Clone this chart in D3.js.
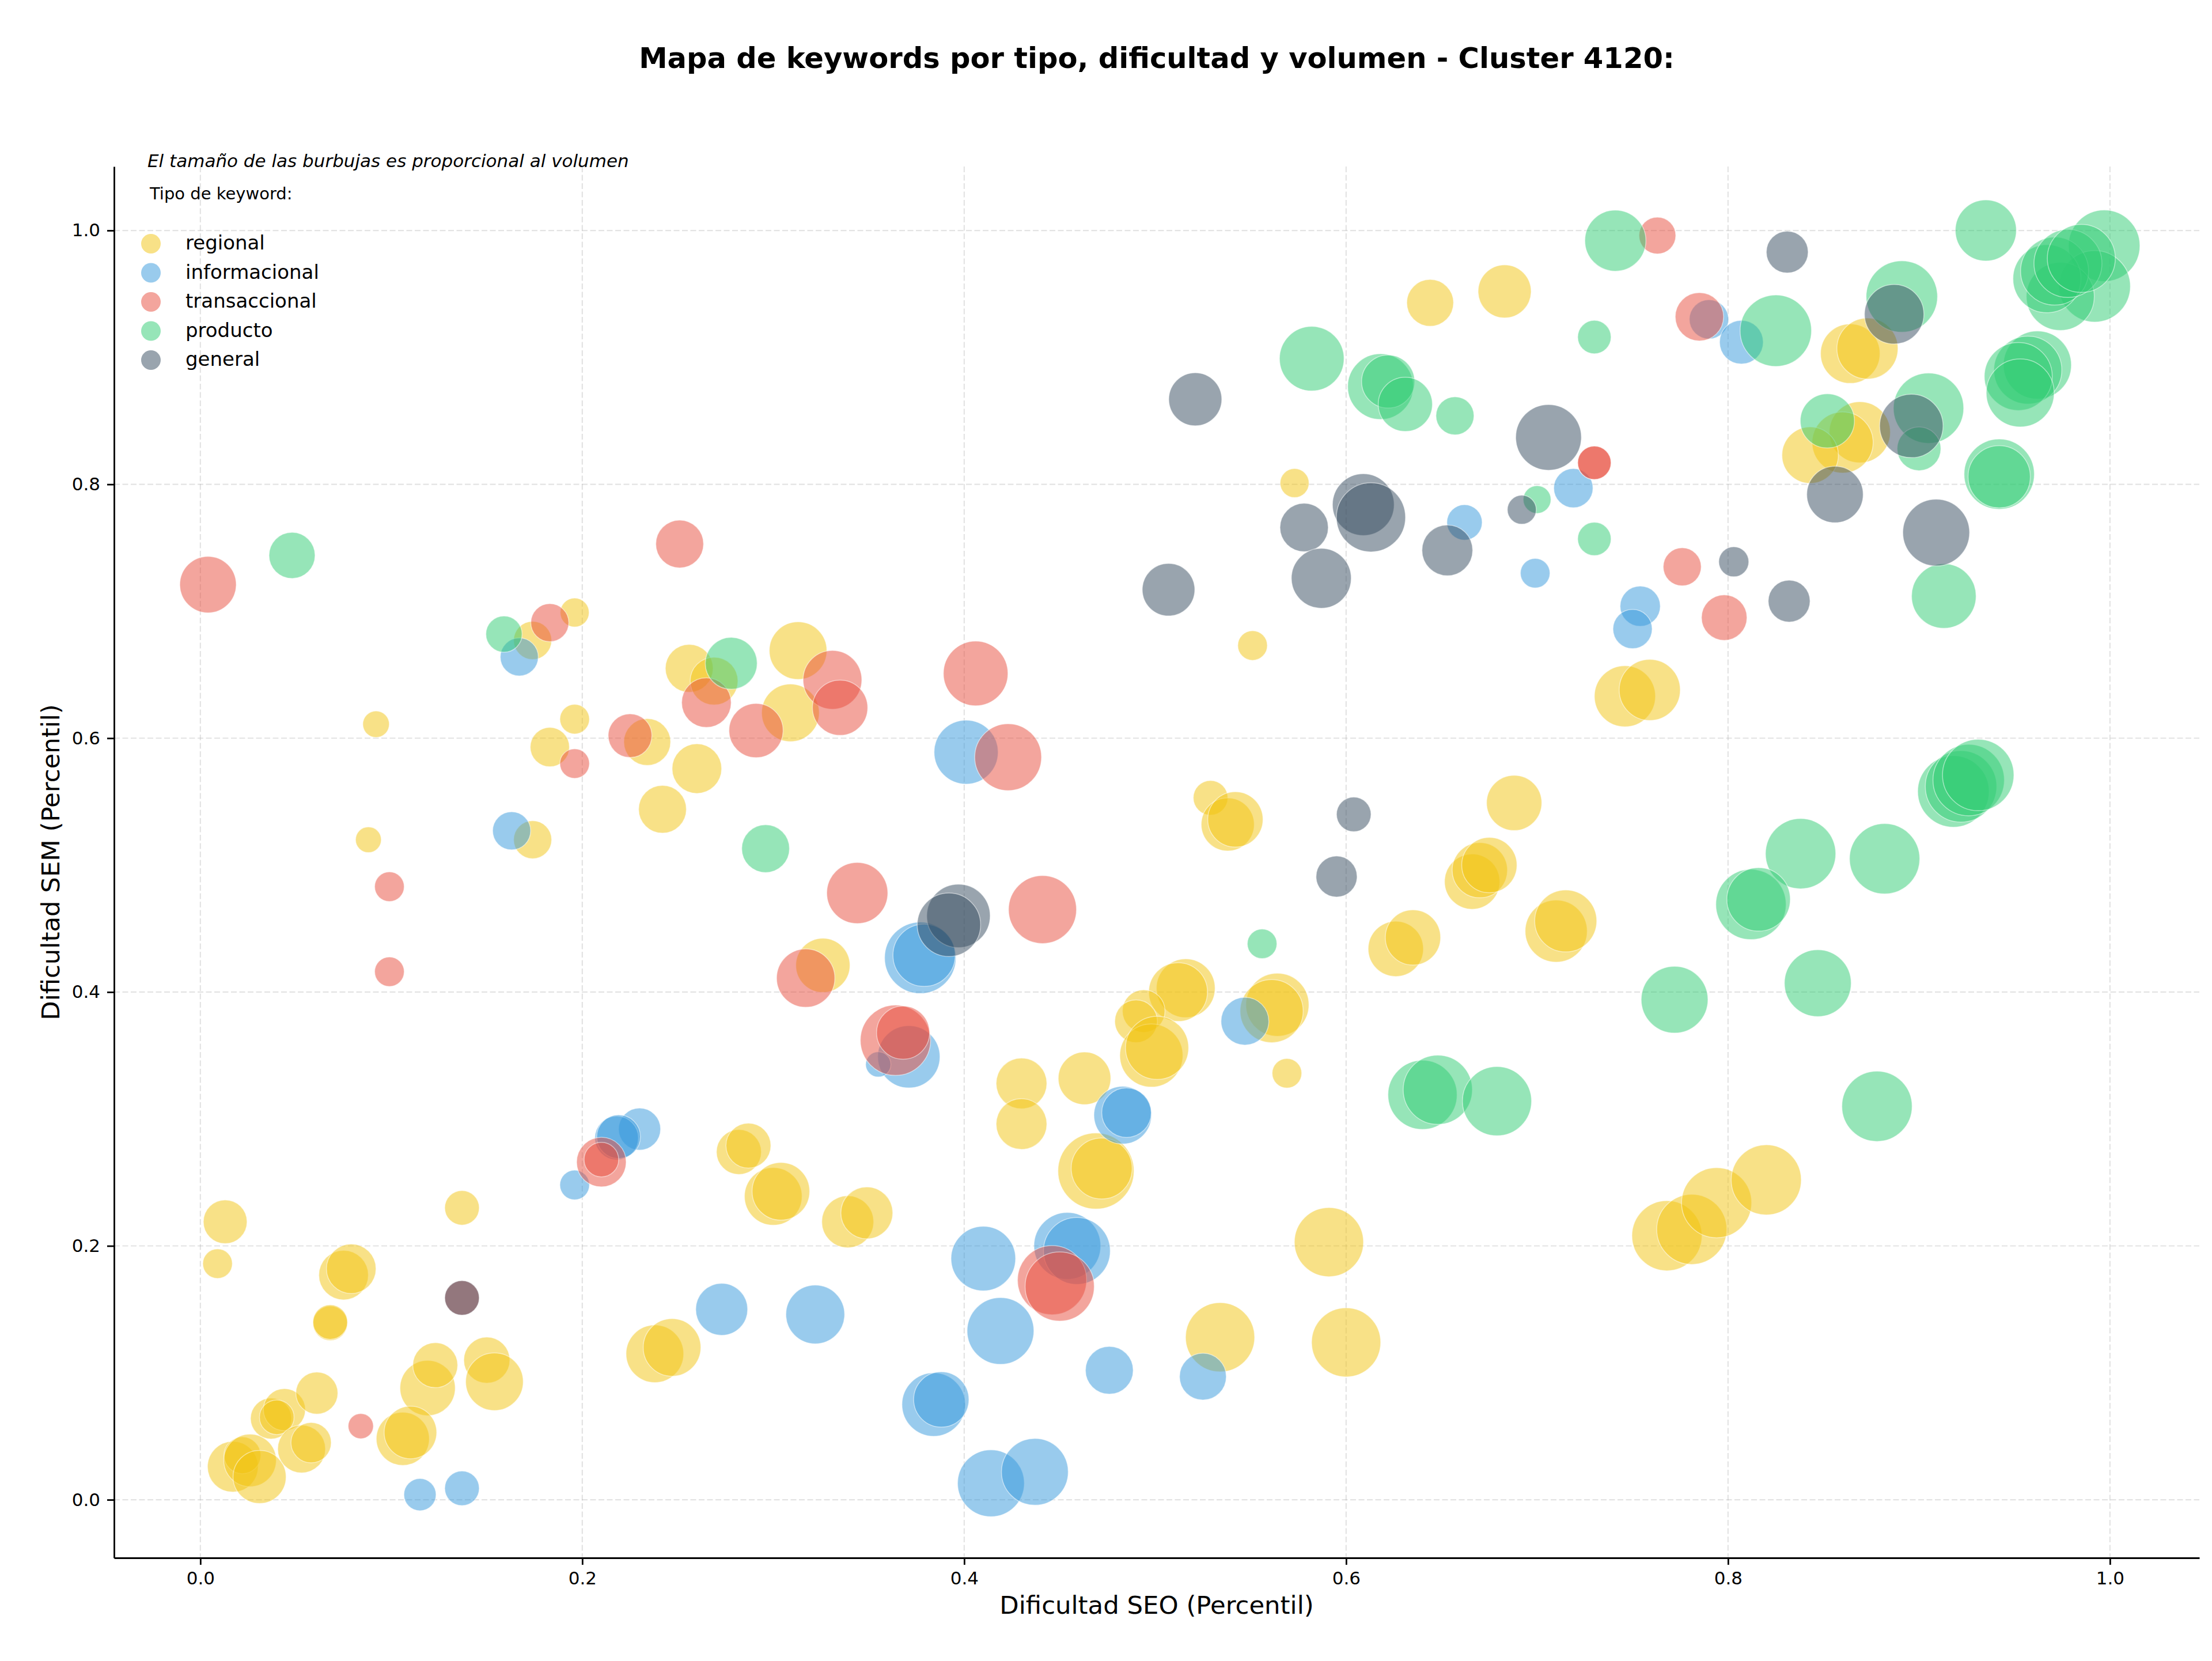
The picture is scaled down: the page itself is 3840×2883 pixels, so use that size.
<!DOCTYPE html>
<html>
<head>
<meta charset="utf-8">
<script src="https://cdn.jsdelivr.net/npm/d3@7"></script>
<style>
  body { margin: 0; background: #fff; }
  text { font-family: "DejaVu Sans", sans-serif; }
</style>
</head>
<body>
<div class="data_figure"></div>
<script>
// [dificultad SEO, dificultad SEM, volumen]
const regional = [
    [0.174, 0.677, 1090], [0.256, 0.655, 1720], [0.269, 0.645, 1720], [0.313, 0.669, 2500],
    [0.309, 0.620, 2500], [0.092, 0.611, 530], [0.196, 0.615, 660], [0.196, 0.699, 630],
    [0.183, 0.593, 1160], [0.234, 0.597, 1650], [0.260, 0.576, 1850], [0.242, 0.544, 1720],
    [0.088, 0.520, 500], [0.174, 0.520, 1090], [0.326, 0.421, 2210],
    [0.013, 0.219, 1440], [0.009, 0.186, 660], [0.137, 0.230, 900], [0.075, 0.177, 1850],
    [0.079, 0.182, 1850], [0.068, 0.139, 900], [0.068, 0.140, 900], [0.282, 0.274, 1520],
    [0.287, 0.279, 1520], [0.300, 0.239, 2500], [0.304, 0.243, 2500], [0.017, 0.026, 1940],
    [0.022, 0.035, 1020], [0.026, 0.031, 2080], [0.031, 0.018, 2120], [0.037, 0.064, 1270],
    [0.044, 0.071, 1330], [0.040, 0.065, 900], [0.061, 0.084, 1330], [0.053, 0.040, 1720],
    [0.058, 0.045, 1220], [0.119, 0.088, 2300], [0.123, 0.106, 1520], [0.150, 0.110, 1600],
    [0.154, 0.093, 2500], [0.106, 0.048, 2120], [0.110, 0.053, 2080], [0.238, 0.115, 2500],
    [0.247, 0.120, 2500],
    [0.529, 0.553, 900], [0.538, 0.532, 2120], [0.542, 0.536, 2300], [0.688, 0.549, 2300],
    [0.666, 0.487, 2300], [0.670, 0.496, 2300], [0.675, 0.500, 2300], [0.626, 0.434, 2300],
    [0.635, 0.443, 2300], [0.516, 0.403, 2600], [0.512, 0.400, 2600], [0.564, 0.390, 3000],
    [0.561, 0.385, 3000], [0.494, 0.385, 1370], [0.490, 0.377, 1370], [0.551, 0.673, 660],
    [0.430, 0.328, 1940], [0.430, 0.296, 1940], [0.463, 0.332, 2080], [0.498, 0.350, 3000],
    [0.501, 0.356, 3000], [0.569, 0.336, 660], [0.469, 0.259, 4360], [0.472, 0.261, 2800],
    [0.339, 0.219, 2030], [0.349, 0.226, 2030], [0.591, 0.203, 3600], [0.534, 0.128, 3600],
    [0.600, 0.124, 3600],
    [0.573, 0.801, 630], [0.644, 0.943, 1650], [0.683, 0.952, 2120], [0.864, 0.903, 2660],
    [0.873, 0.907, 2810], [0.869, 0.841, 2810], [0.860, 0.833, 2810], [0.843, 0.823, 2400],
    [0.746, 0.633, 2810], [0.759, 0.638, 2810], [0.710, 0.448, 2900], [0.715, 0.456, 2900],
    [0.768, 0.208, 3700], [0.781, 0.213, 3700], [0.794, 0.234, 3700], [0.820, 0.252, 3700]
];
const informacional = [
    [0.167, 0.664, 1090], [0.163, 0.527, 1090], [0.230, 0.292, 1330], [0.218, 0.285, 1440],
    [0.219, 0.286, 1440], [0.196, 0.248, 660], [0.115, 0.004, 780], [0.137, 0.009, 900],
    [0.273, 0.150, 2030], [0.322, 0.146, 2600], [0.401, 0.589, 3090], [0.662, 0.770, 940],
    [0.699, 0.730, 660], [0.377, 0.427, 3840], [0.379, 0.429, 2920], [0.547, 0.377, 1720],
    [0.371, 0.349, 2920], [0.355, 0.343, 480], [0.483, 0.303, 2500], [0.485, 0.305, 1850],
    [0.410, 0.190, 3140], [0.454, 0.200, 3360], [0.459, 0.196, 3360], [0.419, 0.133, 3360],
    [0.476, 0.102, 1720], [0.525, 0.097, 1650], [0.384, 0.075, 3030], [0.388, 0.079, 2300],
    [0.414, 0.013, 3360], [0.437, 0.022, 3360], [0.719, 0.797, 1160], [0.790, 0.930, 1160],
    [0.807, 0.912, 1440], [0.754, 0.704, 1220], [0.750, 0.686, 1160]
];
const transaccional = [
    [0.004, 0.721, 2400], [0.251, 0.753, 1720], [0.183, 0.691, 1090], [0.265, 0.628, 1850],
    [0.331, 0.646, 2600], [0.335, 0.624, 2300], [0.291, 0.606, 2210], [0.196, 0.580, 660],
    [0.225, 0.602, 1440], [0.099, 0.483, 660], [0.099, 0.416, 660], [0.317, 0.411, 2560],
    [0.137, 0.159, 900], [0.210, 0.266, 1850], [0.210, 0.268, 900], [0.084, 0.058, 480],
    [0.406, 0.651, 3140], [0.423, 0.585, 3360], [0.344, 0.478, 2810], [0.441, 0.465, 3480],
    [0.364, 0.362, 3720], [0.368, 0.368, 2120], [0.446, 0.173, 3600], [0.450, 0.168, 3600],
    [0.763, 0.996, 1020], [0.785, 0.932, 1760], [0.730, 0.817, 840], [0.730, 0.817, 840],
    [0.776, 0.735, 1090], [0.798, 0.695, 1560]
];
const producto = [
    [0.048, 0.744, 1600], [0.159, 0.682, 990], [0.278, 0.659, 2030], [0.296, 0.513, 1720],
    [0.556, 0.438, 660], [0.640, 0.319, 3600], [0.648, 0.323, 3600], [0.679, 0.314, 3600],
    [0.582, 0.899, 3140], [0.618, 0.877, 3250], [0.622, 0.881, 2120], [0.631, 0.863, 2210],
    [0.657, 0.854, 1090], [0.700, 0.788, 580], [0.730, 0.916, 840], [0.730, 0.757, 840],
    [0.741, 0.992, 2810], [0.825, 0.921, 3840], [0.935, 1.000, 2810], [0.891, 0.948, 3840],
    [0.852, 0.850, 2210], [0.905, 0.860, 3720], [0.900, 0.828, 1440], [0.942, 0.808, 3720],
    [0.942, 0.806, 2920], [0.913, 0.712, 3140],
    [0.997, 0.988, 3840], [0.992, 0.956, 3840], [0.974, 0.948, 3480], [0.967, 0.962, 3480],
    [0.971, 0.968, 3480], [0.978, 0.974, 3480], [0.985, 0.978, 3480],
    [0.962, 0.894, 3480], [0.957, 0.890, 3480], [0.952, 0.885, 3480], [0.953, 0.872, 3480],
    [0.918, 0.558, 3840], [0.922, 0.562, 3840], [0.926, 0.567, 3840], [0.931, 0.571, 3840],
    [0.838, 0.509, 3720], [0.882, 0.505, 3720], [0.812, 0.469, 3720], [0.816, 0.473, 3030],
    [0.772, 0.394, 3360], [0.847, 0.407, 3360], [0.878, 0.310, 3720]
];
const general = [
    [0.137, 0.159, 900], [0.521, 0.867, 2120], [0.609, 0.784, 2870], [0.613, 0.774, 3600],
    [0.578, 0.766, 1760], [0.653, 0.748, 1940], [0.507, 0.717, 2080], [0.587, 0.726, 2700],
    [0.604, 0.540, 900], [0.595, 0.491, 1270], [0.397, 0.460, 3030], [0.392, 0.453, 3030],
    [0.692, 0.780, 630], [0.706, 0.837, 3250], [0.831, 0.983, 1320], [0.887, 0.934, 2660],
    [0.896, 0.846, 3030], [0.856, 0.792, 2400], [0.909, 0.762, 3360], [0.803, 0.739, 680],
    [0.832, 0.708, 1320]
];

const tipos = ["regional", "informacional", "transaccional", "producto", "general"];
const tipoData = [regional, informacional, transaccional, producto, general];
const colores = ["#f1c40f", "#3498db", "#e74c3c", "#2ecc71", "#34495e"];
const ticks = [0.0, 0.2, 0.4, 0.6, 0.8, 1.0];

const titleStr = "Mapa de keywords por tipo, dificultad y volumen - Cluster 4120:";
const noteStr = "El tamaño de las burbujas es proporcional al volumen";

const widthMax = 3840;
const heightMax = 2883;
const plot = { left: 198, right: 3818, top: 289, bottom: 2704 };

const svg = d3.select(".data_figure")
    .append("svg")
    .attr("width", widthMax)
    .attr("height", heightMax)
    .style("display", "block");

svg.append("rect").attr("width", widthMax).attr("height", heightMax).attr("fill", "#fff");

const x = d3.scaleLinear().domain([-0.0452, 1.0468]).range([plot.left, plot.right]);
const y = d3.scaleLinear().domain([-0.0458, 1.0504]).range([plot.bottom, plot.top]);
const r = d3.scaleSqrt().domain([0, 4000]).range([0, Math.sqrt(4000)]);

// grid
const grid = svg.append("g").attr("class", "grid")
    .attr("stroke", "#b0b0b0").attr("stroke-opacity", 0.35)
    .attr("stroke-width", 2.2).attr("stroke-dasharray", "10,4.5");
grid.selectAll(".gx").data(ticks).enter()
    .append("line")
    .attr("x1", (d) => x(d)).attr("x2", (d) => x(d))
    .attr("y1", plot.top).attr("y2", plot.bottom);
grid.selectAll(".gy").data(ticks).enter()
    .append("line")
    .attr("x1", plot.left).attr("x2", plot.right)
    .attr("y1", (d) => y(d)).attr("y2", (d) => y(d));

// bubbles, one layer per tipo
tipos.forEach((t, i) => {
    svg.append("g")
        .attr("class", "tipo-" + t)
        .selectAll("circle")
        .data(tipoData[i])
        .enter()
            .append("circle")
            .attr("cx", (d) => x(d[0]))
            .attr("cy", (d) => y(d[1]))
            .attr("r", (d) => r(d[2]))
            .attr("fill", colores[i])
            .attr("fill-opacity", 0.5)
            .attr("stroke", "#fff")
            .attr("stroke-opacity", 0.5)
            .attr("stroke-width", 1.5);
});

// axes
const fmt = d3.format(".1f");
const xAxis = svg.append("g")
    .attr("transform", "translate(0," + plot.bottom + ")")
    .call(d3.axisBottom(x).tickValues(ticks).tickFormat(fmt).tickSize(12).tickSizeOuter(0).tickPadding(12));
const yAxis = svg.append("g")
    .attr("transform", "translate(" + plot.left + ",0)")
    .call(d3.axisLeft(y).tickValues(ticks).tickFormat(fmt).tickSize(12).tickSizeOuter(0).tickPadding(12));
[xAxis, yAxis].forEach((a) => {
    a.select(".domain").attr("stroke", "#000").attr("stroke-width", 2.8);
    a.selectAll(".tick line").attr("stroke", "#000").attr("stroke-width", 2.8);
    a.selectAll(".tick text")
        .attr("fill", "#000")
        .style("font-family", "DejaVu Sans")
        .style("font-size", "31px");
});

// labels
svg.append("text")
    .text("Dificultad SEO (Percentil)")
    .attr("x", (plot.left + plot.right) / 2)
    .attr("y", 2801)
    .attr("text-anchor", "middle")
    .style("font-size", "43.4px");
svg.append("text")
    .text("Dificultad SEM (Percentil)")
    .attr("transform", "translate(103," + (plot.top + plot.bottom) / 2 + ") rotate(-90)")
    .attr("text-anchor", "middle")
    .style("font-size", "43.4px");

svg.append("text")
    .attr("id", "title")
    .text(titleStr)
    .attr("x", (plot.left + plot.right) / 2)
    .attr("y", 118)
    .attr("text-anchor", "middle")
    .style("font-size", "49.6px")
    .style("font-weight", "bold");

// note + legend
svg.append("text")
    .text(noteStr)
    .attr("x", 256)
    .attr("y", 290)
    .style("font-size", "31px")
    .style("font-style", "italic");
svg.append("text")
    .text("Tipo de keyword:")
    .attr("x", 260)
    .attr("y", 346)
    .style("font-size", "29px");

const legend = svg.append("g").attr("id", "legend");
const legendRows = legend.selectAll(".row")
    .data(tipos)
    .enter()
        .append("g")
        .attr("transform", (d, i) => "translate(262," + (423 + i * 50.5) + ")");
legendRows.append("circle")
    .attr("r", 17)
    .attr("fill", (d, i) => colores[i])
    .attr("fill-opacity", 0.5);
legendRows.append("text")
    .text((d) => d)
    .attr("x", 60)
    .attr("y", 10)
    .style("font-size", "34px");
</script>
</body>
</html>
